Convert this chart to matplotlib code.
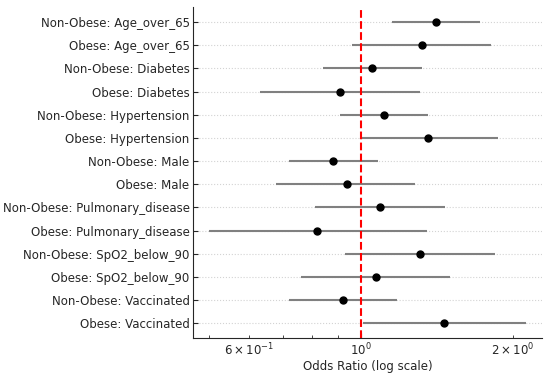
import matplotlib
matplotlib.use("Agg")
import matplotlib.pyplot as plt
import numpy as np

labels = [
    "Non-Obese: Age_over_65", "Obese: Age_over_65",
    "Non-Obese: Diabetes", "Obese: Diabetes",
    "Non-Obese: Hypertension", "Obese: Hypertension",
    "Non-Obese: Male", "Obese: Male",
    "Non-Obese: Pulmonary_disease", "Obese: Pulmonary_disease",
    "Non-Obese: SpO2_below_90", "Obese: SpO2_below_90",
    "Non-Obese: Vaccinated", "Obese: Vaccinated",
]
odds_ratio = [1.41, 1.32, 1.05, 0.91, 1.11, 1.36, 0.88, 0.94, 1.09, 0.82, 1.31, 1.07, 0.92, 1.46]
ci_low = [1.15, 0.96, 0.84, 0.63, 0.91, 0.995, 0.72, 0.68, 0.81, 0.50, 0.93, 0.76, 0.72, 1.01]
ci_high = [1.72, 1.81, 1.32, 1.31, 1.36, 1.87, 1.08, 1.28, 1.47, 1.35, 1.84, 1.50, 1.18, 2.12]

odds_ratio = np.array(odds_ratio)
err = [odds_ratio - np.array(ci_low), np.array(ci_high) - odds_ratio]
y = np.arange(len(labels))

plt.rcParams['text.color'] = '#262626'
plt.rcParams['axes.labelcolor'] = '#262626'
plt.rcParams['xtick.color'] = '#262626'
plt.rcParams['ytick.color'] = '#262626'
plt.rcParams['axes.edgecolor'] = '#262626'

fig = plt.figure(figsize=(5.5, 3.75), dpi=100)
ax = fig.add_axes([0.351, 0.098, 0.634, 0.883])

ax.errorbar(odds_ratio, y, xerr=err, fmt='o', color='black', ecolor='gray',
            elinewidth=1.5, markersize=5, capsize=0)
ax.axvline(1, color='red', linestyle='--', linewidth=1.5)

ax.set_xscale('log')
ax.set_xlim(0.465, 2.28)
ax.set_yticks(y)
ax.set_yticklabels(labels)
ax.invert_yaxis()
ax.set_xlabel('Odds Ratio (log scale)', fontsize=8.5, labelpad=1)

ax.grid(axis='y', linestyle=':', color='lightgray', linewidth=0.8)
ax.set_axisbelow(True)
ax.spines['top'].set_visible(False)
ax.spines['right'].set_visible(False)
ax.tick_params(direction='in', which='both', labelsize=8.5, pad=2.5)

plt.savefig('out.png', dpi=100)
